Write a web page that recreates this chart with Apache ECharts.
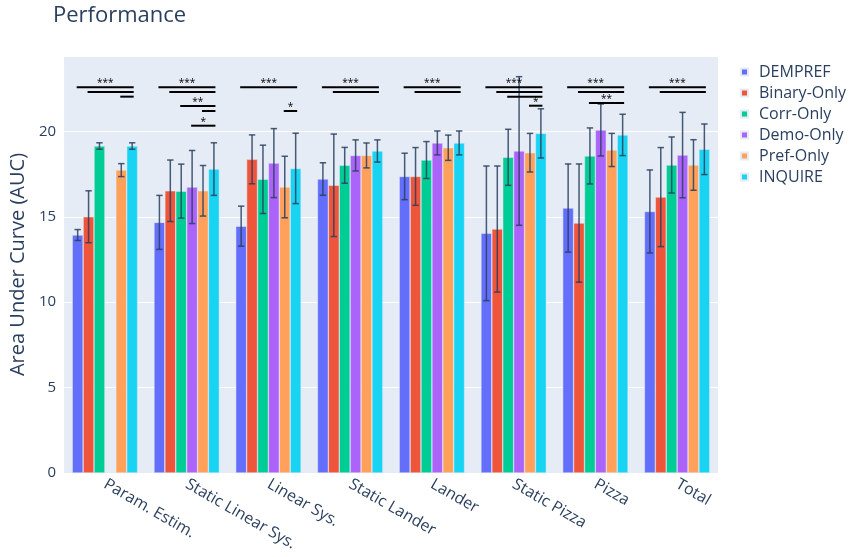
<!DOCTYPE html>
<html>
<head>
<meta charset="utf-8">
<script src="https://cdn.jsdelivr.net/npm/echarts@6/dist/echarts.min.js"></script>
<style>
  html, body { margin: 0; padding: 0; background: #fff; }
  #chart { width: 849px; height: 557px; }
</style>
</head>
<body>
<div id="chart"></div>
<script>
// Task groups along the x axis
const categories = ['Param. Estim.', 'Static Linear Sys.', 'Linear Sys.', 'Static Lander',
                    'Lander', 'Static Pizza', 'Pizza', 'Total'];

// Methods (one bar series each)
const methods = ['DEMPREF', 'Binary-Only', 'Corr-Only', 'Demo-Only', 'Pref-Only', 'INQUIRE'];
const colors = ['#636efa', '#EF553B', '#00cc96', '#ab63fa', '#FFA15A', '#19d3f3'];

// Mean AUC per task (null = not run)
const demprefAUC = [13.93, 14.67, 14.45, 17.21, 17.36, 14.03, 15.51, 15.31];
const binaryAUC  = [15.00, 16.52, 18.36, 16.84, 17.36, 14.28, 14.63, 16.15];
const corrAUC    = [19.14, 16.50, 17.19, 18.01, 18.32, 18.48, 18.56, 18.03];
const demoAUC    = [null,  16.74, 18.14, 18.59, 19.32, 18.85, 20.08, 18.61];
const prefAUC    = [17.73, 16.52, 16.74, 18.59, 19.04, 18.75, 18.91, 18.03];
const inquireAUC = [19.14, 17.79, 17.83, 18.85, 19.32, 19.88, 19.79, 18.95];

// Error bar half-widths
const demprefErr = [0.32, 1.58, 1.17, 0.95, 1.36, 3.94, 2.58, 2.43];
const binaryErr  = [1.52, 1.80, 1.43, 3.00, 1.69, 3.69, 3.46, 2.90];
const corrErr    = [0.19, 1.58, 2.00, 1.05, 1.08, 1.64, 1.64, 1.64];
const demoErr    = [null, 2.14, 2.02, 0.91, 0.70, 4.35, 1.52, 2.50];
const prefErr    = [0.38, 1.48, 1.80, 0.73, 0.74, 1.13, 0.97, 1.48];
const inquireErr = [0.19, 1.54, 2.06, 0.65, 0.70, 1.44, 1.21, 1.48];

const yTicks = [0, 5, 10, 15, 20];

// Significance vs. INQUIRE: [task index, compared method index, stars, bracket height (AUC)]
const sigTests = [
  [0, 0, 3, 22.58], [0, 1, 3, 22.30], [0, 4, 3, 22.03],
  [1, 0, 3, 22.58], [1, 1, 3, 22.30], [1, 2, 2, 21.48], [1, 4, 2, 21.19], [1, 3, 1, 20.33],
  [2, 0, 3, 22.58], [2, 4, 1, 21.19],
  [3, 0, 3, 22.58], [3, 1, 3, 22.30],
  [4, 0, 3, 22.58], [4, 1, 3, 22.30],
  [5, 0, 3, 22.58], [5, 1, 3, 22.30], [5, 2, 3, 22.03], [5, 4, 1, 21.50],
  [6, 0, 3, 22.58], [6, 1, 3, 22.30], [6, 2, 2, 21.66],
  [7, 0, 3, 22.58], [7, 1, 3, 22.30]
];

const means = [demprefAUC, binaryAUC, corrAUC, demoAUC, prefAUC, inquireAUC];
const errs = [demprefErr, binaryErr, corrErr, demoErr, prefErr, inquireErr];
const nM = methods.length;
const GAP = 0.2;          // fraction of each category left empty
const INK = '#2a3f5f';

// Horizontal centre of bar m inside category x
function barCenter(api, x, m) {
  const band = api.size([1, 0])[0];
  const groupW = band * (1 - GAP);
  const bw = groupW / nM;
  const c = api.coord([x, 0])[0];
  return c - groupW / 2 + bw * (m + 0.5);
}

const series = [];
methods.forEach((name, m) => {
  series.push({
    name, type: 'bar',
    data: means[m].map(v => v === null ? '-' : v),
    barGap: '0%', barCategoryGap: (GAP * 100) + '%',
    itemStyle: { color: colors[m], borderColor: '#E5ECF6', borderWidth: 0.5 },
    emphasis: { disabled: true },
    z: 2
  });
});

methods.forEach((name, m) => {
  const data = [];
  means[m].forEach((v, i) => { if (v !== null) data.push([i, v, errs[m][i]]); });
  series.push({
    name: name + ' err', type: 'custom', data, z: 5, silent: true,
    renderItem: (params, api) => {
      const x = api.value(0), v = api.value(1), e = api.value(2);
      const cx = barCenter(api, x, m);
      const yt = api.coord([x, v + e])[1];
      const yb = api.coord([x, v - e])[1];
      const cap = 3.2;
      const st = { stroke: INK, lineWidth: 1.5, opacity: 0.85 };
      return { type: 'group', children: [
        { type: 'line', shape: { x1: cx, y1: yt, x2: cx, y2: yb }, style: st },
        { type: 'line', shape: { x1: cx - cap, y1: yt, x2: cx + cap, y2: yt }, style: st },
        { type: 'line', shape: { x1: cx - cap, y1: yb, x2: cx + cap, y2: yb }, style: st }
      ]};
    }
  });
});

// Mark the first (topmost) bracket of each star level so it carries the label
const sigData = sigTests.map((t, k) => {
  const first = !sigTests.slice(0, k).some(s => s[0] === t[0] && s[2] === t[2]);
  return [t[0], t[1], t[2], t[3], first ? 1 : 0];
});

series.push({
  name: 'significance', type: 'custom', data: sigData, z: 6, silent: true,
  renderItem: (params, api) => {
    const x = api.value(0), m = api.value(1), stars = api.value(2), h = api.value(3);
    const first = api.value(4);
    const x1 = barCenter(api, x, m) - 1;
    const x2 = barCenter(api, x, nM - 1) + 1.5;
    const y = api.coord([x, h])[1];
    const children = [
      { type: 'line', shape: { x1, y1: y, x2, y2: y }, style: { stroke: '#000', lineWidth: 2 } }
    ];
    if (first) {
      children.push({
        type: 'text',
        style: { text: '*'.repeat(stars), x: (x1 + x2) / 2, y: y + 1,
                 align: 'center', verticalAlign: 'bottom',
                 font: '10px "Open Sans"', fill: '#000' }
      });
    }
    return { type: 'group', children };
  }
});

const chart = echarts.init(document.getElementById('chart'), null, { renderer: 'canvas' });
chart.setOption({
  animation: false,
  backgroundColor: '#fff',
  textStyle: { fontFamily: '"Open Sans", verdana, arial, sans-serif', color: INK },
  title: {
    text: 'Performance', left: 48, top: 0,
    textStyle: { fontSize: 22, fontWeight: 'normal', color: INK, fontFamily: '"Open Sans"' }
  },
  legend: {
    data: methods, orient: 'vertical', left: 735, top: 59,
    icon: 'rect', itemWidth: 7, itemHeight: 7, itemGap: 5,
    textStyle: { fontSize: 16, color: INK, lineHeight: 16, padding: [0, 0, 0, 6] }
  },
  grid: { left: 64, right: 131, top: 56, bottom: 84, show: true,
          backgroundColor: '#E5ECF6', borderWidth: 0, containLabel: false },
  xAxis: {
    type: 'category', data: categories,
    axisLine: { show: false }, axisTick: { show: false },
    axisLabel: { rotate: -30, fontSize: 16, color: INK, margin: 10, interval: 0 }
  },
  yAxis: {
    type: 'value', min: 0, max: 24.41, interval: 5,
    name: 'Area Under Curve (AUC)', nameLocation: 'middle', nameGap: 29,
    nameTextStyle: { fontSize: 20, color: INK },
    axisLine: { show: false }, axisTick: { show: false },
    axisLabel: { fontSize: 15, color: INK, margin: 8,
                 formatter: v => yTicks.includes(v) ? String(v) : '' },
    splitLine: { lineStyle: { color: '#fff', width: 1 } }
  },
  series
});
</script>
</body>
</html>
